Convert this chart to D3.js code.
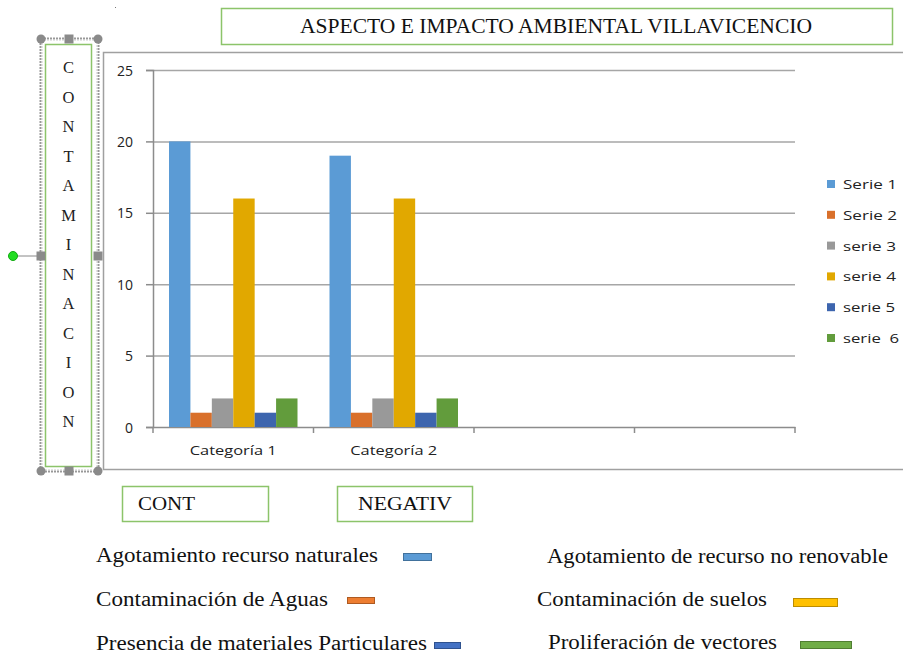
<!DOCTYPE html>
<html><head><meta charset="utf-8">
<script src="https://cdn.jsdelivr.net/npm/d3@7"></script>
<style>body{margin:0;background:#fff}svg{display:block}</style>
</head><body>
<script>
const categories = ["Categoría 1", "Categoría 2", "", ""];
const seriesNames = ["Serie 1", "Serie 2", "serie 3", "serie 4", "serie 5", "serie  6"];
const seriesColors = ["#5b9bd5", "#d9702b", "#999999", "#e1a800", "#3d65ae", "#629c3c"];
const values = [
  [20, 19, null, null],
  [1, 1, null, null],
  [2, 2, null, null],
  [16, 16, null, null],
  [1, 1, null, null],
  [2, 2, null, null]
];
const yTicks = [0, 5, 10, 15, 20, 25];
const title = "ASPECTO E IMPACTO AMBIENTAL VILLAVICENCIO";
const sideLabel = "CONTAMINACION";
const boxLabels = ["CONT", "NEGATIV"];
const notesLeft = ["Agotamiento recurso naturales", "Contaminación de Aguas", "Presencia de materiales Particulares"];
const notesRight = ["Agotamiento de recurso no renovable", "Contaminación de suelos", "Proliferación de vectores"];

const W = 903, H = 655;
const svg = d3.select("body").append("svg").attr("width", W).attr("height", H);
const green = "#8cc46a";
const serif = "'Liberation Serif','Times New Roman',serif";
const sans = "'Open Sans','Liberation Sans',sans-serif";

function fitText(g, t, x0, y0, size, family, width, anchor) {
  const el = g.append("text").attr("x", x0).attr("y", y0).attr("font-family", family)
    .attr("font-size", size).attr("fill", "#111").attr("xml:space", "preserve")
    .attr("text-anchor", anchor || "start").text(t);
  if (width) el.attr("textLength", width).attr("lengthAdjust", "spacingAndGlyphs");
  return el;
}

// chart outer frame
svg.append("rect").attr("x", 103.5).attr("y", 52.5).attr("width", 820).attr("height", 417)
  .attr("fill", "#fff").attr("stroke", "#a0a0a0").attr("stroke-width", 1.5);

const plot = {x0: 153, x1: 795, y0: 70, y1: 427};
const x = d3.scaleBand().domain(d3.range(categories.length)).range([plot.x0, plot.x1]);
const inner = d3.scaleBand().domain(d3.range(seriesNames.length))
  .range([16, x.bandwidth() - 16]);
const y = d3.scaleLinear().domain([0, 25]).range([plot.y1, plot.y0]);

// gridlines
svg.append("g").selectAll("line").data(yTicks.filter(d => d > 0)).join("line")
  .attr("x1", plot.x0).attr("x2", plot.x1)
  .attr("y1", d => y(d) + 0.5).attr("y2", d => y(d) + 0.5)
  .attr("stroke", "#a6a6a6").attr("stroke-width", 1.5);

// y axis
const yAxis = svg.append("g").attr("transform", `translate(${plot.x0},0)`)
  .call(d3.axisLeft(y).tickValues(yTicks).tickSize(7).tickPadding(13));
yAxis.select(".domain").attr("stroke", "#8c8c8c").attr("stroke-width", 1.5);
yAxis.selectAll(".tick line").attr("stroke", "#8c8c8c").attr("stroke-width", 1.5);
yAxis.selectAll("text").attr("font-family", sans).attr("font-size", 14).attr("fill", "#222")
  .attr("dy", "0.36em");

// x axis
const xAxis = svg.append("g").attr("transform", `translate(0,${plot.y1})`)
  .call(d3.axisBottom(x).tickFormat(i => categories[i]).tickSize(0).tickPadding(18));
xAxis.select(".domain").attr("stroke", "#8c8c8c").attr("stroke-width", 1.5);
xAxis.selectAll("text").attr("font-family", sans).attr("font-size", 13.5).attr("fill", "#222")
  .each(function(i) { if (categories[i]) d3.select(this).attr("textLength", 87).attr("lengthAdjust", "spacingAndGlyphs"); });
svg.append("g").selectAll("line").data(d3.range(categories.length + 1)).join("line")
  .attr("x1", i => i < categories.length ? x(i) : plot.x1)
  .attr("x2", i => i < categories.length ? x(i) : plot.x1)
  .attr("y1", plot.y1).attr("y2", plot.y1 + 6)
  .attr("stroke", "#8c8c8c").attr("stroke-width", 1.5);

// bars
values.forEach((row, s) => {
  svg.append("g").selectAll("rect").data(row.map((v, c) => ({v, c})).filter(d => d.v != null)).join("rect")
    .attr("x", d => x(d.c) + inner(s))
    .attr("width", inner.bandwidth())
    .attr("y", d => y(d.v))
    .attr("height", d => y(0) - y(d.v))
    .attr("fill", seriesColors[s]);
});

// right legend
const leg = svg.append("g");
const legW = [54, 54, 53, 53, 52, 56];
seriesNames.forEach((n, i) => {
  const ly = 184 + i * 30.8;
  leg.append("rect").attr("x", 827).attr("y", ly - 4).attr("width", 8).attr("height", 8).attr("fill", seriesColors[i]);
  fitText(leg, n, 843, ly + 5, 13.5, sans, legW[i]).attr("fill", "#222");
});

// title box
svg.append("rect").attr("x", 221.5).attr("y", 8.5).attr("width", 671).attr("height", 36)
  .attr("fill", "#fff").attr("stroke", green).attr("stroke-width", 1.5);
fitText(svg, title, 300, 33, 20, serif, 512);

// tiny dot
svg.append("rect").attr("x", 115).attr("y", 7).attr("width", 1).attr("height", 1).attr("fill", "#777");

// side label selection box
svg.append("rect").attr("x", 41).attr("y", 39).attr("width", 57).attr("height", 432)
  .attr("fill", "none").attr("stroke", "#999").attr("stroke-width", 3).attr("stroke-dasharray", "2,1");
svg.append("rect").attr("x", 42).attr("y", 40).attr("width", 55).attr("height", 430)
  .attr("fill", "none").attr("stroke", "#fff").attr("stroke-width", 1);
svg.append("rect").attr("x", 45.5).attr("y", 44.5).attr("width", 46).attr("height", 422)
  .attr("fill", "#fff").attr("stroke", green).attr("stroke-width", 1.5);
svg.append("line").attr("x1", 13).attr("x2", 41).attr("y1", 256).attr("y2", 256).attr("stroke", "#888").attr("stroke-width", 1);
svg.append("circle").attr("cx", 13).attr("cy", 256).attr("r", 4.5).attr("fill", "#22dd22").attr("stroke", "#11aa11");
[[41, 39], [98, 39], [41, 471], [98, 471]].forEach(([cx, cy]) =>
  svg.append("circle").attr("cx", cx).attr("cy", cy).attr("r", 4.5).attr("fill", "#8a8a8a"));
[[69, 39], [69, 471], [41, 256], [98, 256]].forEach(([cx, cy]) =>
  svg.append("rect").attr("x", cx - 4.5).attr("y", cy - 4.5).attr("width", 9).attr("height", 9).attr("fill", "#8a8a8a"));
sideLabel.split("").forEach((ch, i) => {
  svg.append("text").attr("x", 68.5).attr("y", 73 + i * 29.5).attr("text-anchor", "middle")
    .attr("font-family", serif).attr("font-size", 16.5).attr("fill", "#222").text(ch);
});

// CONT / NEGATIV boxes
[[122, 146, 138, 57], [337, 135, 358, 94]].forEach(([bx, bw, tx, tw], i) => {
  svg.append("rect").attr("x", bx + 0.5).attr("y", 486.5).attr("width", bw).attr("height", 35)
    .attr("fill", "#fff").attr("stroke", green).attr("stroke-width", 1.5);
  fitText(svg, boxLabels[i], tx, 510, 18, serif, tw);
});

// bottom notes
const noteYL = [562, 606, 650], noteYR = [563, 606, 649];
const leftW = [282, 232, 331];
notesLeft.forEach((t, i) => fitText(svg, t, 96, noteYL[i], 20.5, serif, leftW[i]));
const rightX = [547, 537, 548], rightW = [341, 230, 229];
notesRight.forEach((t, i) => fitText(svg, t, rightX[i], noteYR[i], 20.5, serif, rightW[i]));
const swatches = [
  [403, 553, 28, 7, "#5b9bd5", "#41719c"],
  [347, 597, 27, 6, "#ed7d31", "#ae5a21"],
  [434, 642, 26, 6, "#4472c4", "#2f528f"],
  [793, 598, 44, 8, "#ffc000", "#bc8c00"],
  [800, 641, 51, 7, "#70ad47", "#507e32"]
];
swatches.forEach(([sx, sy, sw, sh, f, s]) => svg.append("rect").attr("x", sx + 0.5).attr("y", sy + 0.5)
  .attr("width", sw).attr("height", sh).attr("fill", f).attr("stroke", s).attr("stroke-width", 1));
</script>
</body></html>
